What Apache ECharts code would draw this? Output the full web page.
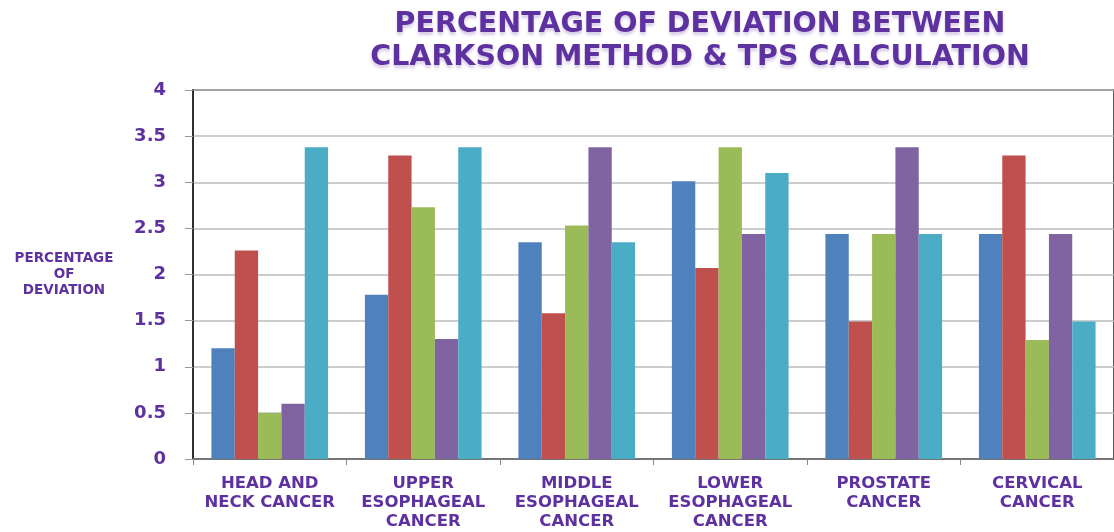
<!DOCTYPE html>
<html>
<head>
<meta charset="utf-8">
<script src="https://cdn.jsdelivr.net/npm/echarts@6/dist/echarts.min.js"></script>
<style>
  html, body { margin: 0; padding: 0; background: #fff; }
  #chart { width: 1114px; height: 532px; }
</style>
</head>
<body>
<div id="chart"></div>
<script>
// Cancer sites along the x axis
const categories = [
  'HEAD AND\nNECK CANCER',
  'UPPER\nESOPHAGEAL\nCANCER',
  'MIDDLE\nESOPHAGEAL\nCANCER',
  'LOWER\nESOPHAGEAL\nCANCER',
  'PROSTATE\nCANCER',
  'CERVICAL\nCANCER'
];

// Percentage of deviation, one array per bar position in each group
const series1 = [1.20, 1.78, 2.35, 3.01, 2.44, 2.44];
const series2 = [2.26, 3.29, 1.58, 2.07, 1.49, 3.29];
const series3 = [0.50, 2.73, 2.53, 3.38, 2.44, 1.29];
const series4 = [0.60, 1.30, 3.38, 2.44, 3.38, 2.44];
const series5 = [3.38, 3.38, 2.35, 3.10, 2.44, 1.49];

const yTicks = [0, 0.5, 1, 1.5, 2, 2.5, 3, 3.5, 4];

const palette = ['#4F81BD', '#C0504D', '#9BBB59', '#8064A2', '#4BACC6'];
const purple = '#5E31A0';

const chart = echarts.init(document.getElementById('chart'));

const barSeries = [series1, series2, series3, series4, series5].map((data, i) => ({
  type: 'bar',
  data: data,
  barGap: '0%',
  barCategoryGap: '24%',
  itemStyle: { color: palette[i] },
  silent: true
}));

chart.setOption({
  animation: false,
  title: {
    text: 'PERCENTAGE OF DEVIATION BETWEEN\nCLARKSON METHOD & TPS CALCULATION',
    left: 695,
    textAlign: 'center',
    top: 3,
    textStyle: {
      fontFamily: 'DejaVu Sans',
      fontWeight: 'bold',
      fontSize: 28.5,
      lineHeight: 33,
      color: purple,
      textShadowColor: 'rgba(94,49,160,0.25)',
      textShadowBlur: 3,
      textShadowOffsetY: 3
    }
  },
  grid: {
    left: 193,
    top: 90,
    width: 924,
    height: 369,
    show: true,
    borderColor: '#222',
    borderWidth: 1.5,
    backgroundColor: 'transparent'
  },
  xAxis: {
    type: 'category',
    data: categories,
    axisLine: { show: true, lineStyle: { color: '#666', width: 1.5 } },
    axisTick: { show: true, length: 6, lineStyle: { color: '#888' } },
    axisLabel: {
      interval: 0,
      margin: 15,
      fontFamily: 'DejaVu Sans',
      fontWeight: 'bold',
      fontSize: 16.5,
      lineHeight: 19,
      color: purple,
      align: 'center'
    }
  },
  yAxis: {
    type: 'value',
    min: yTicks[0],
    max: yTicks[yTicks.length - 1],
    interval: yTicks[1] - yTicks[0],
    name: 'PERCENTAGE\nOF\nDEVIATION',
    nameLocation: 'middle',
    nameGap: 129,
    nameRotate: 0,
    nameTextStyle: {
      fontFamily: 'DejaVu Sans',
      fontWeight: 'bold',
      fontSize: 13.5,
      lineHeight: 16,
      color: purple,
      align: 'center'
    },
    axisLine: { show: true, lineStyle: { color: '#222', width: 1.5 } },
    axisTick: { show: true, length: 8, lineStyle: { color: '#999' } },
    axisLabel: {
      margin: 27,
      fontFamily: 'DejaVu Sans',
      fontWeight: 'bold',
      fontSize: 18,
      color: purple
    },
    splitLine: { show: true, lineStyle: { color: '#BDBDBD', width: 1.5 } }
  },
  series: barSeries
});
</script>
</body>
</html>
